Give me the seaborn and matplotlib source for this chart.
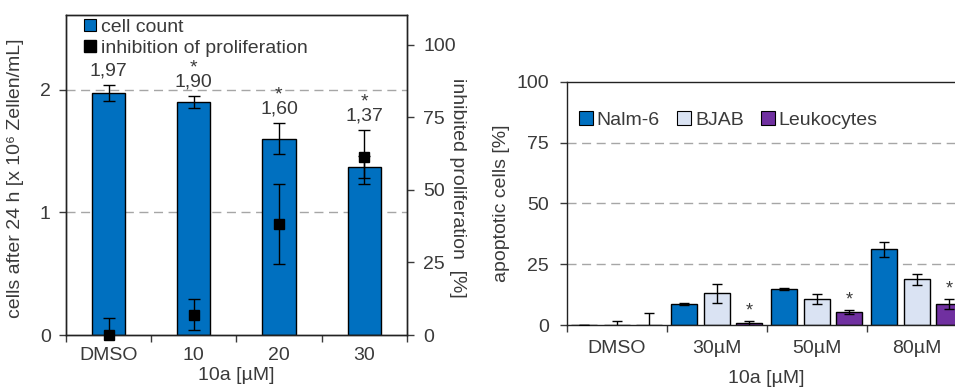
import numpy as np
import pandas as pd
import matplotlib
matplotlib.use("Agg")
import matplotlib.pyplot as plt
from matplotlib.patches import Patch
from matplotlib.lines import Line2D
from matplotlib.ticker import FixedLocator, NullFormatter
import seaborn as sns

# ---- data: cell count / inhibition of proliferation ----
conc_left = ["DMSO", "10", "20", "30"]
cell_count = [1.97, 1.90, 1.60, 1.37]
cell_count_err = [0.065, 0.05, 0.125, 0.09]
inhibition = [0.0, 7.0, 38.3, 61.4]
inhibition_err = [6.0, 5.4, 13.7, 9.3]
count_significant = [False, True, True, True]

# ---- data: apoptosis ----
conc_right = ["DMSO", "30µM", "50µM", "80µM"]
cell_lines = ["Nalm-6", "BJAB", "Leukocytes"]
apoptosis = {
    "Nalm-6": [0.0, 8.6, 14.7, 31.1],
    "BJAB": [0.0, 13.0, 10.7, 18.8],
    "Leukocytes": [0.0, 0.7, 5.5, 8.6],
}
apoptosis_err = {
    "Nalm-6": [0.0, 0.5, 0.4, 3.2],
    "BJAB": [1.8, 3.8, 2.0, 2.3],
    "Leukocytes": [5.1, 1.1, 0.8, 2.0],
}
apoptosis_significant = {
    "Nalm-6": [False, False, False, False],
    "BJAB": [False, False, False, False],
    "Leukocytes": [False, True, True, True],
}

BLUE = "#0070C0"
LIGHT = "#DAE3F3"
PURPLE = "#7030A0"
TXT = "#3a3a3a"
GRID = "#a6a6a6"
FS = 14

sns.set_style("ticks")
plt.rcParams["font.family"] = ["Liberation Sans", "DejaVu Sans"]
plt.rcParams["font.size"] = FS
plt.rcParams["text.color"] = TXT
plt.rcParams["axes.labelcolor"] = TXT
plt.rcParams["xtick.color"] = TXT
plt.rcParams["ytick.color"] = TXT
plt.rcParams["xtick.labelcolor"] = TXT
plt.rcParams["ytick.labelcolor"] = TXT
plt.rcParams["axes.edgecolor"] = "#222222"
plt.rcParams["axes.linewidth"] = 1.0

W, H = 955, 392
fig = plt.figure(figsize=(W / 100, H / 100), dpi=100)


def frac(x0, y0, x1, y1):
    return [x0 / W, 1 - y1 / H, (x1 - x0) / W, (y1 - y0) / H]


dash = (0, (6.5, 4.0))

# ================= left panel =================
ax = fig.add_axes(frac(66, 15, 406.7, 335))
df_left = pd.DataFrame({"conc": conc_left, "cells": cell_count})
sns.barplot(data=df_left, x="conc", y="cells", color=BLUE, saturation=1,
            width=0.39, edgecolor="black", linewidth=1.0, errorbar=None,
            ax=ax, zorder=2)
ax.set_xlim(-0.5, 3.5)
ax.set_ylim(0, 2.607)
ax.set_yticks([0, 1, 2])
ax.set_yticklabels(["0", "1", "2"])
for v in (1, 2):
    ax.axhline(v, color=GRID, lw=1.0, ls=dash, zorder=1)

xs_left = [p.get_x() + p.get_width() / 2 for p in ax.containers[0]]
ax.errorbar(xs_left, cell_count, yerr=cell_count_err, fmt="none",
            ecolor="black", elinewidth=1.0, capsize=4.5, capthick=1.0, zorder=3)

ax.xaxis.set_minor_locator(FixedLocator(np.arange(-0.5, 4.0, 1.0)))
ax.xaxis.set_minor_formatter(NullFormatter())
ax.tick_params(axis="x", which="major", length=0, pad=9, labelsize=FS)
ax.tick_params(axis="x", which="minor", length=5, width=1.0, direction="out")
ax.tick_params(axis="y", length=5, width=1.0, direction="out", pad=6, labelsize=FS)
ax.set_xlabel("10a [µM]", fontsize=FS, labelpad=2)
ax.set_ylabel("cells after 24 h [x 10⁶ Zellen/mL]", fontsize=FS)
ax.yaxis.set_label_coords(-0.123, 0.49)
for s in ax.spines.values():
    s.set_visible(True)

ax2 = ax.twinx()
ax2.set_ylim(0, 110.2)
ax2.set_yticks([0, 25, 50, 75, 100])
# error bars are clipped at the axis floor, the markers are not
ax2.errorbar(xs_left, inhibition, yerr=inhibition_err, fmt="none",
             ecolor="black", elinewidth=1.0, capsize=4.5, capthick=1.0,
             zorder=4)
ax2.plot(xs_left, inhibition, ls="none", marker="s", color="black",
         markersize=7.5, zorder=5, clip_on=False)
ax2.tick_params(axis="y", length=5, width=1.0, direction="out", pad=7, labelsize=FS)
ax2.set_ylabel("inhibited proliferation  [%]", rotation=-90, fontsize=FS,
               va="center", ha="center")
ax2.yaxis.set_label_coords(1.15, 0.46)

# value labels, with a significance star stacked above where applicable
ymax_l = ax.get_ylim()[1]
ymax_r = ax2.get_ylim()[1]
for x, v, e, iv, ie, sig in zip(xs_left, cell_count, cell_count_err,
                                inhibition, inhibition_err, count_significant):
    top = max(v + e, (iv + ie) / ymax_r * ymax_l)
    label = f"{v:.2f}".replace(".", ",")
    if sig:
        label = "*\n" + label
    ax.annotate(label, (x, top), xytext=(0, 4), textcoords="offset points",
                ha="center", va="bottom", multialignment="center",
                linespacing=0.75, fontsize=FS, color=TXT, zorder=6)

leg_handles = [
    Line2D([], [], marker="s", ls="none", markerfacecolor=BLUE,
           markeredgecolor="black", markersize=8, markeredgewidth=0.8),
    Line2D([], [], marker="s", ls="none", markerfacecolor="black",
           markeredgecolor="black", markersize=8),
]
ax2.legend(leg_handles, ["cell count", "inhibition of proliferation"],
           loc="upper left", bbox_to_anchor=(0.03, 1.015), frameon=False,
           fontsize=FS, handlelength=0.6, handletextpad=0.3, labelspacing=0.2,
           borderaxespad=0)

# ================= right panel =================
bx = fig.add_axes(frac(566.7, 81.7, 966.7, 325))
rows = []
for line in cell_lines:
    for c, v in zip(conc_right, apoptosis[line]):
        rows.append({"conc": c, "cell line": line, "apoptotic": v})
df_right = pd.DataFrame(rows)
sns.barplot(data=df_right, x="conc", y="apoptotic", hue="cell line",
            hue_order=cell_lines, palette=[BLUE, LIGHT, PURPLE], saturation=1,
            width=0.975, gap=0.2, edgecolor="black", linewidth=1.0,
            errorbar=None, legend=False, ax=bx, zorder=2)
bx.set_xlim(-0.5, 3.5)
bx.set_ylim(0, 100)
bx.set_yticks([0, 25, 50, 75, 100])
for v in (25, 50, 75):
    bx.axhline(v, color=GRID, lw=1.0, ls=dash, zorder=1)

for line, cont in zip(cell_lines, bx.containers):
    xs = [p.get_x() + p.get_width() / 2 for p in cont]
    bx.errorbar(xs, apoptosis[line], yerr=apoptosis_err[line], fmt="none",
                ecolor="black", elinewidth=1.0, capsize=3.8, capthick=1.0,
                zorder=3)
    for x, v, e, sig in zip(xs, apoptosis[line], apoptosis_err[line],
                            apoptosis_significant[line]):
        if sig:
            bx.annotate("*", (x, v + e), xytext=(0, 1), textcoords="offset points",
                        ha="center", va="bottom", fontsize=FS - 1, color=TXT)

bx.xaxis.set_minor_locator(FixedLocator(np.arange(-0.5, 4.0, 1.0)))
bx.xaxis.set_minor_formatter(NullFormatter())
bx.tick_params(axis="x", which="major", length=0, pad=11, labelsize=FS)
bx.tick_params(axis="x", which="minor", length=5, width=1.0, direction="out")
bx.tick_params(axis="y", length=5, width=1.0, direction="out", pad=8, labelsize=FS)
bx.set_xlabel("10a [µM]", fontsize=FS, labelpad=9)
bx.set_ylabel("apoptotic cells [%]", fontsize=FS)
bx.yaxis.set_label_coords(-0.142, 0.5)
for s in bx.spines.values():
    s.set_visible(True)

leg2 = [Patch(facecolor=c, edgecolor="black", linewidth=0.8)
        for c in (BLUE, LIGHT, PURPLE)]
bx.legend(leg2, cell_lines, loc="upper left", bbox_to_anchor=(0.012, 0.91),
          ncol=3, frameon=False, fontsize=FS, handlelength=0.7,
          handleheight=0.7, handletextpad=0.2, columnspacing=0.9,
          borderaxespad=0)

fig.savefig("out.png", dpi=100)
